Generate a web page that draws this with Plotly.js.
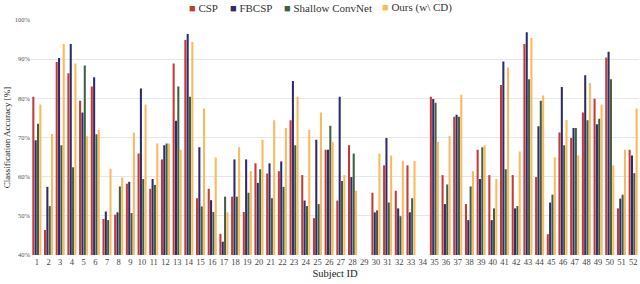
<!DOCTYPE html>
<html><head><meta charset="utf-8">
<script src="https://cdn.plot.ly/plotly-3.0.1.min.js"></script>
<style>html,body{margin:0;padding:0;background:#fff}#c{width:640px;height:284px}</style>
</head><body><div id="c"></div>
<script>
const subjects = Array.from({length:52},(_,i)=>String(i+1));
const csp = [80.4,46.4,89.3,86.4,79.4,83.0,49.2,50.3,58.2,65.9,56.9,64.4,88.9,94.9,54.5,56.9,45.4,54.9,51.0,63.4,60.8,61.4,74.4,60.4,49.4,66.9,53.9,68.0,null,55.9,62.9,56.4,62.9,null,80.4,60.4,75.3,53.0,66.9,60.4,83.4,60.4,93.9,59.9,45.3,71.3,69.9,76.4,79.9,90.4,51.9,66.9];
const fbcsp = [69.3,57.4,90.3,93.9,76.4,85.4,51.1,50.9,58.7,82.5,59.4,68.0,74.3,96.4,67.5,54.0,43.4,64.4,64.4,58.4,63.4,63.9,84.4,53.9,69.4,66.9,80.4,59.9,null,50.9,69.9,51.9,50.9,null,79.8,53.0,75.8,48.9,59.4,48.9,89.4,51.9,96.9,72.9,53.4,82.9,72.4,85.9,73.4,91.9,54.4,65.4];
const shallow = [73.5,52.5,68.0,62.4,88.4,70.8,48.9,57.5,50.7,59.4,57.9,68.5,83.0,80.4,52.4,51.0,54.9,54.9,55.9,61.9,54.5,57.4,68.0,52.5,53.0,73.0,58.9,65.9,null,51.4,53.4,49.9,54.5,null,78.9,58.0,75.3,57.5,67.5,51.9,61.9,52.5,84.9,79.4,55.4,68.0,72.4,74.4,74.8,84.9,55.4,60.9];
const ours = [78.4,70.9,93.9,88.9,70.3,71.9,62.0,59.8,71.3,78.4,68.5,68.5,66.9,94.4,77.4,64.9,50.9,67.5,61.4,69.4,74.4,72.4,80.4,71.9,76.4,68.9,60.4,56.4,null,65.9,65.4,64.0,64.0,null,68.9,70.4,80.9,61.4,68.0,59.4,87.9,66.4,95.4,80.7,64.9,74.5,65.4,83.9,78.4,62.9,66.9,77.4];
const names = ["CSP","FBCSP","Shallow ConvNet","Ours (w\\ CD)"];
const colors = ["#c63a36","#2d2b6b","#3f6042","#fbb95c"];
const series = [csp,fbcsp,shallow,ours];
const data = series.map((s,i)=>({type:'bar',x:subjects,y:s,name:names[i],marker:{color:colors[i],line:{width:0}}}));
const font = "Liberation Serif, Times New Roman, serif";
// legend drawn as annotations (left edges in pixels)
const legendLeft = [187,228,282,380];
const L = 31, W = 608, T = 20, H = 235;
const annotations = names.map((n,i)=>({
  xref:'paper',yref:'paper',x:(legendLeft[i]-L)/W,y:(T+H-8)/H,xanchor:'left',yanchor:'middle',showarrow:false,
  text:`<span style="color:${colors[i]}">■</span> ${n}`,font:{size:11,color:'#333',family:font}
}));
const layout = {
  width:640,height:284,
  margin:{l:L,r:1,t:T,b:29,autoexpand:false},
  barmode:'group',bargap:0.2,bargroupgap:0.12,
  paper_bgcolor:'#fff',plot_bgcolor:'#fff',
  font:{family:font,color:'#555'},
  showlegend:false,
  annotations:annotations,
  xaxis:{type:'category',tickfont:{size:8.5,color:'#444',family:font},ticks:'',showgrid:false,showline:false,zeroline:false,
    title:{text:'Subject ID',font:{size:10.5,color:'#222',family:font},standoff:4}},
  yaxis:{range:[40,100],dtick:10,ticksuffix:'%',tickfont:{size:6.5,color:'#555',family:font},showgrid:true,gridcolor:'#e6e6e6',gridwidth:1,zeroline:false,showline:false,ticks:'',
    title:{text:'Classification Accuracy [%]',font:{size:9,color:'#222',family:font},standoff:2}}
};
Plotly.newPlot('c',data,layout,{displayModeBar:false,staticPlot:true});
</script></body></html>
